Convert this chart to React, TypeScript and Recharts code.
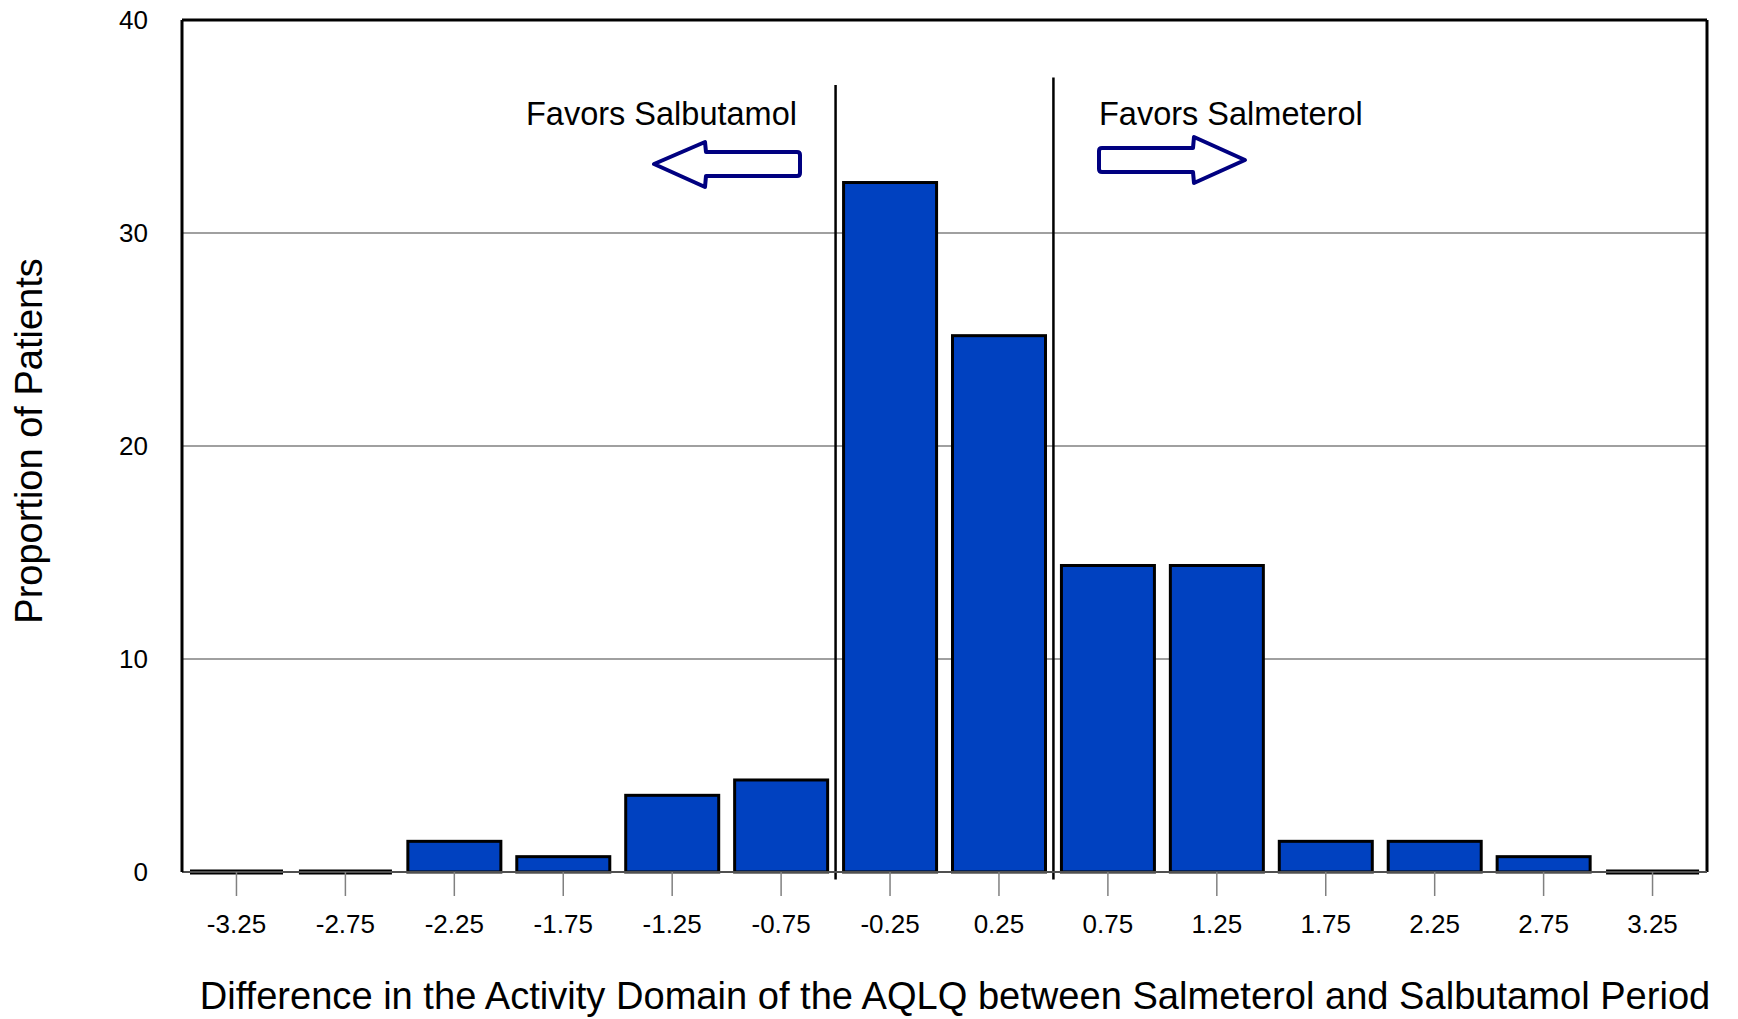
import React from 'react';
import { BarChart, Bar, XAxis, YAxis, CartesianGrid, ReferenceLine } from 'recharts';

const categories = ['-3.25', '-2.75', '-2.25', '-1.75', '-1.25', '-0.75', '-0.25', '0.25', '0.75', '1.25', '1.75', '2.25', '2.75', '3.25'];
const proportions = [0, 0, 1.44, 0.72, 3.6, 4.32, 32.37, 25.18, 14.39, 14.39, 1.44, 1.44, 0.72, 0];
const yTicks = [0, 10, 20, 30, 40];
const dividerLeft = { x: '-0.25', top: 36.95, bottom: -0.35 };
const dividerRight = { x: '0.75', top: 37.3, bottom: -0.35 };

const xTitle = 'Difference in the Activity Domain of the AQLQ between Salmeterol and Salbutamol Period';
const yTitle = 'Proportion of Patients';
const leftNote = 'Favors Salbutamol';
const rightNote = 'Favors Salmeterol';

const data = categories.map((c, i) => ({ cat: c, value: proportions[i] }));

const FONT = "'Liberation Sans', Arial, Helvetica, sans-serif";
const FILL = '#0041C0';

const BarShape = (props: any) => {
  const { x, y, width, height } = props;
  if (!height || Math.abs(height) < 0.5) {
    return <line x1={x} x2={x + width} y1={y} y2={y} stroke="#000" strokeWidth={5} />;
  }
  return <rect x={x} y={y} width={width} height={height} fill={FILL} stroke="#000" strokeWidth={3} />;
};

const W = 1738;
const H = 1019;

export default function App() {
  return (
    <div style={{ position: 'absolute', left: 0, top: 0, width: W, height: H, background: '#fff' }}>
      <BarChart
        width={W}
        height={H}
        data={data}
        margin={{ top: 20, right: 31, left: 0, bottom: 0 }}
        barCategoryGap={8}
      >
        <CartesianGrid vertical={false} stroke="#808080" strokeWidth={1.5} />
        <XAxis
          dataKey="cat"
          height={147}
          interval={0}
          axisLine={{ stroke: '#505050', strokeWidth: 2 }}
          tickLine={{ stroke: '#808080', strokeWidth: 1.5 }}
          tickSize={24}
          tickMargin={19}
          tick={{ fill: '#000', fontSize: 26, fontFamily: FONT }}
        />
        <YAxis
          type="number"
          domain={[0, 40]}
          ticks={yTicks}
          width={182}
          axisLine={{ stroke: '#000', strokeWidth: 3 }}
          tickLine={false}
          tickSize={0}
          tickMargin={34}
          tick={{ fill: '#000', fontSize: 26, fontFamily: FONT }}
        />
        <Bar dataKey="value" isAnimationActive={false} shape={BarShape} />
        <ReferenceLine y={40} stroke="#000" strokeWidth={3} />
        <ReferenceLine x="3.25" position="end" stroke="#000" strokeWidth={3} />
        <ReferenceLine
          segment={[{ x: dividerLeft.x, y: dividerLeft.top }, { x: dividerLeft.x, y: dividerLeft.bottom }]}
          position="start"
          ifOverflow="visible"
          stroke="#000"
          strokeWidth={2.5}
        />
        <ReferenceLine
          segment={[{ x: dividerRight.x, y: dividerRight.top }, { x: dividerRight.x, y: dividerRight.bottom }]}
          position="start"
          ifOverflow="visible"
          stroke="#000"
          strokeWidth={2.5}
        />
      </BarChart>
      <svg
        width={W}
        height={H}
        style={{ position: 'absolute', left: 0, top: 0, pointerEvents: 'none' }}
      >
        <text x={955} y={1009} textAnchor="middle" fontSize={38.1} fontFamily={FONT} fill="#000">
          {xTitle}
        </text>
        <text
          x={42}
          y={441}
          textAnchor="middle"
          fontSize={38}
          fontFamily={FONT}
          fill="#000"
          transform="rotate(-90, 42, 441)"
        >
          {yTitle}
        </text>
        <text x={526} y={125} fontSize={32.5} fontFamily={FONT} fill="#000">
          {leftNote}
        </text>
        <text x={1099} y={125} fontSize={32.5} fontFamily={FONT} fill="#000">
          {rightNote}
        </text>
        <path
          d="M 654 164 L 705 142 L 706 152 L 797 152 Q 800 152 800 155 L 800 173 Q 800 176 797 176 L 706 176 L 705 187 Z"
          fill="#fff"
          stroke="#000080"
          strokeWidth={4}
          strokeLinejoin="round"
        />
        <path
          d="M 1245 160 L 1194 137 L 1193 148 L 1102 148 Q 1099 148 1099 151 L 1099 169 Q 1099 172 1102 172 L 1193 172 L 1194 183 Z"
          fill="#fff"
          stroke="#000080"
          strokeWidth={4}
          strokeLinejoin="round"
        />
      </svg>
    </div>
  );
}
